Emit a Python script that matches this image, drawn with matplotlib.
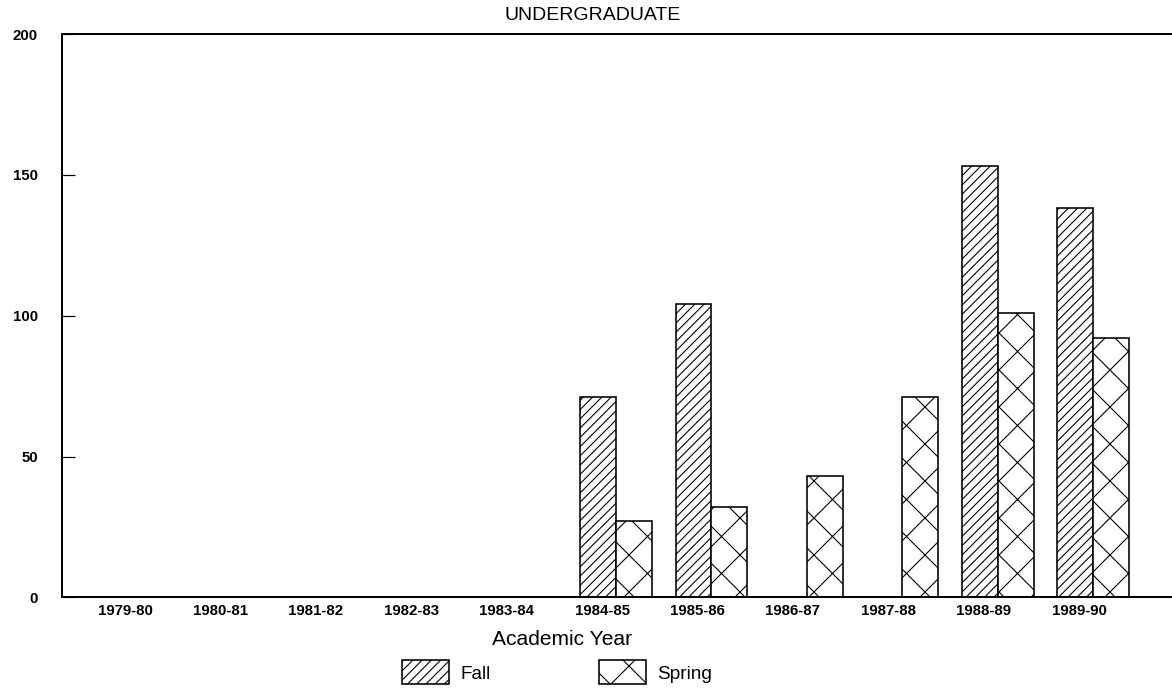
import numpy as np
import matplotlib
matplotlib.use('Agg')
import matplotlib.pyplot as plt

# data
years = ['1979-80', '1980-81', '1981-82', '1982-83', '1983-84', '1984-85',
         '1985-86', '1986-87', '1987-88', '1988-89', '1989-90']
fall = [0, 0, 0, 0, 0, 71, 104, 0, 0, 153, 138]
spring = [0, 0, 0, 0, 0, 27, 32, 43, 71, 101, 92]

# dpi chosen so the hatch spacing comes out as in the scan
DPI = 111
W, H = 1172, 697


def pt(px):
    return px * 72.0 / DPI


plt.rcParams['font.family'] = ['Liberation Sans', 'DejaVu Sans']
plt.rcParams['hatch.linewidth'] = pt(1.1)
plt.rcParams['hatch.color'] = 'black'

fig = plt.figure(figsize=((W + 0.3) / DPI, (H + 0.3) / DPI), dpi=DPI)
ax = fig.add_axes([62 / W, 1 - 597.5 / H, 1 - 62 / W, (597.5 - 34) / H])

x = np.arange(len(years))
bw = 0.377
ax.bar(x - bw / 2, fall, bw, facecolor='white', edgecolor='black',
       linewidth=pt(1.6), hatch='////', label='Fall')
ax.bar(x + bw / 2, spring, bw, facecolor='white', edgecolor='black',
       linewidth=pt(1.6), hatch='x', label='Spring')

ax.set_xlim(-0.807, 10.83)
ax.set_ylim(0, 200)

ax.set_yticks([0, 50, 100, 150, 200])
ax.tick_params(axis='y', direction='in', length=pt(13), width=pt(1.2),
               pad=pt(24), labelsize=pt(15))
for lab in ax.get_yticklabels():
    lab.set_fontweight('bold')

ax.set_xticks(x - 0.147, years)
ax.tick_params(axis='x', length=0, pad=pt(6), labelsize=pt(15))
for lab in ax.get_xticklabels():
    lab.set_fontweight('bold')

ax.spines['right'].set_visible(False)
for s in ['left', 'top', 'bottom']:
    ax.spines[s].set_linewidth(pt(2))

ax.set_xlabel('Academic Year', fontsize=pt(21))
ax.xaxis.set_label_coords(0.45, -0.057)

fig.text(592 / W, 1 - 15 / H, 'UNDERGRADUATE', fontsize=pt(19.5),
         ha='center', va='center')

fs = 19
fig.legend(loc='upper left', bbox_to_anchor=(402 / W, 1 - 660 / H),
           ncol=2, frameon=False, fontsize=pt(fs), borderpad=0,
           borderaxespad=0, handlelength=47 / fs, handleheight=30 / fs,
           handletextpad=11 / fs, columnspacing=109 / fs)

fig.savefig('out.png', dpi=DPI)
